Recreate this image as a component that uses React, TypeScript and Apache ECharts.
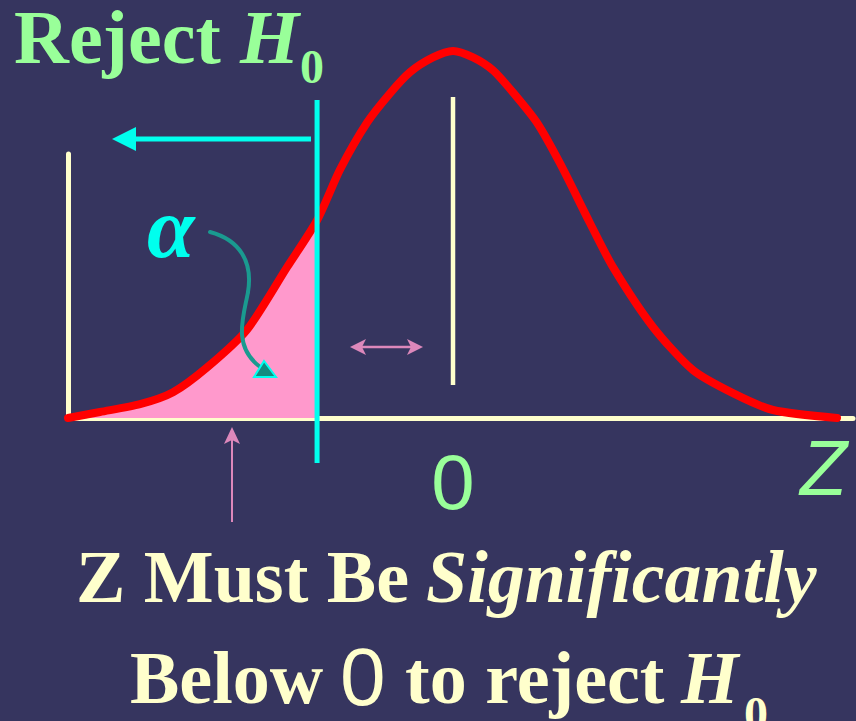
import React, { useEffect, useRef } from "react";
import * as echarts from "echarts";

// Standardised Z values along the curve
const zValues = [
  -3.056, -2.802, -2.484, -2.222, -1.952, -1.635, -1.317, -1.079, -0.897, -0.683,
  -0.5, -0.341, -0.159, 0, 0.159, 0.317, 0.476, 0.667, 0.849, 1.087, 1.27, 1.587,
  1.905, 2.222, 2.54, 3.048,
];
// Density heights at those Z values
const density = [
  0, 0.0065, 0.015, 0.028, 0.055, 0.096, 0.164, 0.215, 0.27, 0.321, 0.353, 0.376,
  0.392, 0.399, 0.392, 0.378, 0.354, 0.321, 0.277, 0.212, 0.164, 0.099, 0.052,
  0.027, 0.0087, 0,
];
const criticalZ = -1.079;
const criticalLineSpan = [-0.0489, 0.3457];
const meanZ = 0;
const meanLineSpan = [0.0359, 0.3489];
const xTickValues = [0];
const xTickLabels = ["0"];
const xRange = [-3.056, 3.175];
const yRange = [0, 0.287];

const BG = "#36355F";
const GREEN = "#99FF99";
const CREAM = "#FFFFCC";
const CYAN = "#00FFEE";
const PINK = "#FF99CC";
const MAUVE = "#DD88BB";
const TEAL = "#1A9A90";

const serif = "'Liberation Serif', 'Times New Roman', serif";
const sans = "'Liberation Sans', Arial, sans-serif";

function txt(
  text: string,
  x: number,
  y: number,
  size: number,
  color: string,
  family: string,
  weight: string,
  style: string,
  lineHeight?: number
) {
  return {
    type: "text",
    x,
    y,
    z: 20,
    style: {
      text,
      x: 0,
      y: 0,
      fill: color,
      fontSize: size,
      fontFamily: family,
      fontWeight: weight,
      fontStyle: style,
      lineHeight: lineHeight ?? size,
      align: "left",
      textAlign: "left",
      verticalAlign: "middle",
      textVerticalAlign: "middle",
    },
  };
}

export default function App() {
  const ref = useRef<HTMLDivElement>(null);
  useEffect(() => {
    const chart = echarts.init(ref.current!, null, { renderer: "svg" });
    const curve = zValues.map((z, i) => [z, density[i]]);
    const tail = curve.filter((p) => p[0] <= criticalZ + 1e-9);

    const option: any = {
      animation: false,
      backgroundColor: BG,
      grid: { left: 68, right: 3, top: 154, bottom: 303, outerBoundsMode: "none" },
      xAxis: {
        type: "value",
        min: xRange[0],
        max: xRange[1],
        axisLine: { show: true, onZero: false, lineStyle: { color: CREAM, width: 5 } },
        axisTick: { show: false },
        splitLine: { show: false },
        axisLabel: {
          show: true,
          customValues: xTickValues,
          formatter: (v: number) => xTickLabels[xTickValues.indexOf(v)] ?? "",
          color: GREEN,
          fontSize: 78,
          fontFamily: sans,
          verticalAlign: "middle",
          margin: 64,
          showMinLabel: false,
          showMaxLabel: false,
        },
      },
      yAxis: {
        type: "value",
        min: yRange[0],
        max: yRange[1],
        axisLine: { show: true, onZero: false, lineStyle: { color: CREAM, width: 5 } },
        axisTick: { show: false },
        splitLine: { show: false },
        axisLabel: { show: false },
      },
      series: [
        {
          type: "line",
          data: tail,
          smooth: 0.25,
          symbol: "none",
          clip: false,
          lineStyle: { width: 0 },
          areaStyle: { color: PINK, opacity: 1 },
          z: 2,
          silent: true,
        },
        {
          type: "line",
          data: curve,
          smooth: 0.25,
          symbol: "none",
          clip: false,
          lineStyle: { color: "#FF0000", width: 8, cap: "round", join: "round" },
          z: 3,
          silent: true,
        },
        {
          type: "line",
          data: [
            [meanZ, meanLineSpan[0]],
            [meanZ, meanLineSpan[1]],
          ],
          symbol: "none",
          clip: false,
          lineStyle: { color: CREAM, width: 4.5 },
          z: 3,
          silent: true,
        },
        {
          type: "line",
          data: [
            [criticalZ, criticalLineSpan[0]],
            [criticalZ, criticalLineSpan[1]],
          ],
          symbol: "none",
          clip: false,
          lineStyle: { color: CYAN, width: 5 },
          z: 4,
          silent: true,
        },
      ],
      graphic: [
        // cyan "reject" arrow
        { type: "line", z: 10, shape: { x1: 311, y1: 139, x2: 130, y2: 139 }, style: { stroke: CYAN, lineWidth: 5 } },
        { type: "polygon", z: 10, shape: { points: [[112, 139], [136, 127], [136, 151]] }, style: { fill: CYAN } },
        // teal curved arrow from alpha
        {
          type: "bezierCurve",
          z: 10,
          shape: { x1: 210, y1: 232, cpx1: 240, cpy1: 240, cpx2: 253, cpy2: 262, x2: 248, y2: 292 },
          style: { stroke: TEAL, lineWidth: 4, lineCap: "round", fill: null },
        },
        {
          type: "bezierCurve",
          z: 10,
          shape: { x1: 248, y1: 292, cpx1: 244, cpy1: 315, cpx2: 232, cpy2: 345, x2: 259, y2: 366 },
          style: { stroke: TEAL, lineWidth: 4, lineCap: "round", fill: null },
        },
        {
          type: "polygon",
          z: 11,
          shape: { points: [[264, 361], [254, 377], [276, 377]] },
          style: { fill: "#138C80", stroke: CYAN, lineWidth: 2 },
        },
        // mauve double arrow
        { type: "line", z: 10, shape: { x1: 360, y1: 347, x2: 412, y2: 347 }, style: { stroke: MAUVE, lineWidth: 2.5 } },
        { type: "polygon", z: 10, shape: { points: [[350, 347], [366, 339], [362, 347], [366, 355]] }, style: { fill: MAUVE } },
        { type: "polygon", z: 10, shape: { points: [[423, 347], [407, 339], [411, 347], [407, 355]] }, style: { fill: MAUVE } },
        // mauve up arrow
        { type: "line", z: 10, shape: { x1: 232, y1: 522, x2: 232, y2: 438 }, style: { stroke: MAUVE, lineWidth: 2 } },
        { type: "polygon", z: 10, shape: { points: [[232, 427], [224, 444], [232, 440], [240, 444]] }, style: { fill: MAUVE } },
        // texts
        txt("Reject", 14, 37.3, 76, GREEN, serif, "bold", "normal", 66),
        txt("H", 240, 37.3, 76, GREEN, serif, "bold", "italic", 66),
        txt("0", 300, 66.8, 48, GREEN, serif, "bold", "normal"),
        txt("α", 147, 228, 86, CYAN, serif, "bold", "italic"),
        txt("Z", 800, 468.3, 77, GREEN, sans, "normal", "italic"),
        txt("Z Must Be", 76, 577, 74, CREAM, serif, "bold", "normal"),
        txt("Significantly", 426, 577, 74, CREAM, serif, "bold", "italic"),
        txt("Below", 130, 678, 74, CREAM, serif, "bold", "normal"),
        txt("0", 340, 676.6, 82, CREAM, sans, "normal", "normal"),
        txt("to reject", 405, 678, 74, CREAM, serif, "bold", "normal"),
        txt("H", 681, 678, 74, CREAM, serif, "bold", "italic"),
        txt("0", 744, 713.7, 48, CREAM, serif, "bold", "normal", 12),
      ],
    };
    chart.setOption(option);
    return () => chart.dispose();
  }, []);
  return (
    <div
      ref={ref}
      style={{ position: "absolute", left: 0, top: 0, width: 856, height: 721 }}
    />
  );
}
